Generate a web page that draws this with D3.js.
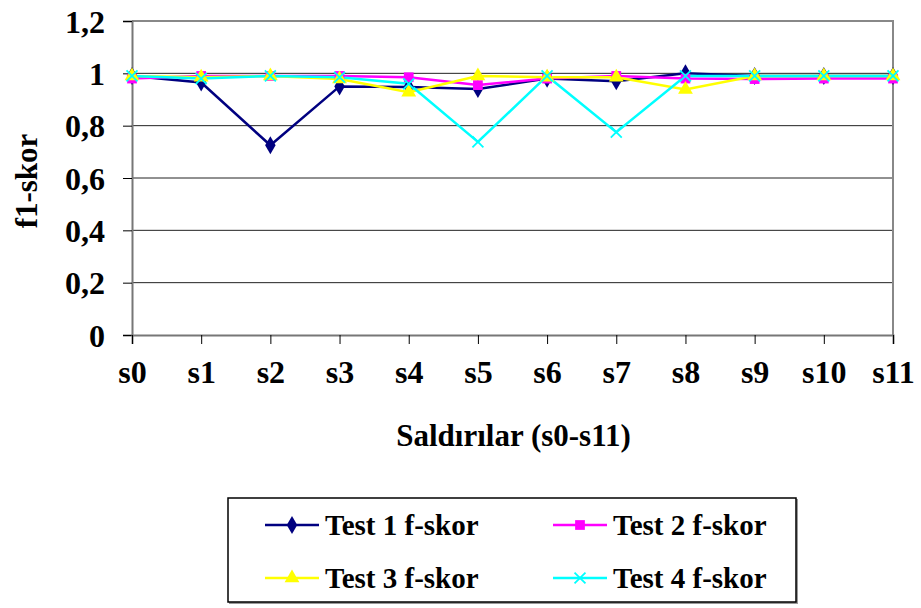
<!DOCTYPE html>
<html>
<head>
<meta charset="utf-8">
<script src="https://cdn.jsdelivr.net/npm/d3@7"></script>
<style>
    body { margin: 0; background: #fff; }
    svg text { font-family: "Liberation Serif", "DejaVu Serif", serif !important; font-weight: bold; }
</style>
</head>
<body>
<svg id="chart" width="921" height="608"></svg>
<script>
// categories (attacks) and the four test series
var categories = ["s0", "s1", "s2", "s3", "s4", "s5", "s6", "s7", "s8", "s9", "s10", "s11"];
var test1 = [0.99, 0.965, 0.725, 0.95, 0.948, 0.94, 0.98, 0.97, 1.0, 0.99, 0.99, 0.99];
var test2 = [0.98, 0.99, 0.99, 0.99, 0.985, 0.955, 0.98, 0.99, 0.98, 0.978, 0.98, 0.98];
var test3 = [0.99, 0.985, 0.99, 0.978, 0.928, 0.99, 0.985, 0.985, 0.938, 0.99, 0.99, 0.99];
var test4 = [0.99, 0.98, 0.99, 0.985, 0.96, 0.738, 0.99, 0.775, 0.99, 0.99, 0.99, 0.99];
var seriesNames = ["Test 1 f-skor", "Test 2 f-skor", "Test 3 f-skor", "Test 4 f-skor"];
var yTicks = [0, 0.2, 0.4, 0.6, 0.8, 1, 1.2];

var colors = ["#000080", "#FF00FF", "#FFFF00", "#00FFFF"];
var symbols = [d3.symbolDiamond, d3.symbolSquare, d3.symbolTriangle, d3.symbolX];
var series = [test1, test2, test3, test4];

var svg = d3.select("#chart");
var plotLeft = 132, plotRight = 893, plotTop = 21, plotBottom = 335;
var serif = '"Liberation Serif", "DejaVu Serif", serif';

var x = d3.scalePoint().domain(categories).range([plotLeft, plotRight]);
var y = d3.scaleLinear().domain([0, 1.2]).range([plotBottom, plotTop]);

var fmt = function (d) { return String(d).replace(".", ","); };

// gridlines
svg.append("g")
    .selectAll("line")
    .data(yTicks.filter(function (d) { return d > 0; }))
    .enter().append("line")
    .attr("x1", plotLeft).attr("x2", plotRight)
    .attr("y1", function (d) { return y(d); })
    .attr("y2", function (d) { return y(d); })
    .attr("stroke", function (d) { return d === 1.2 ? "#888" : "#222"; })
    .attr("stroke-width", function (d) { return d === 1.2 ? 2 : 1; });

// right border
svg.append("line")
    .attr("x1", plotRight).attr("x2", plotRight).attr("y1", plotTop - 1).attr("y2", plotBottom)
    .attr("stroke", "#888").attr("stroke-width", 2);

// y axis
var yAxis = svg.append("g")
    .attr("transform", "translate(" + plotLeft + ",0)")
    .call(d3.axisLeft(y).tickValues(yTicks).tickFormat(fmt).tickSize(9).tickPadding(18));
yAxis.attr("font-family", serif);
yAxis.select(".domain").attr("stroke", "#777").attr("stroke-width", 2);
yAxis.selectAll(".tick line").attr("stroke", "#000");
yAxis.selectAll("text").style("font-size", "32px").style("font-family", serif)
    .attr("fill", "#000").attr("dy", "0.35em");

// x axis
var xAxis = svg.append("g")
    .attr("transform", "translate(0," + plotBottom + ")")
    .call(d3.axisBottom(x).tickSize(9).tickPadding(16));
xAxis.attr("font-family", serif);
xAxis.select(".domain").attr("stroke", "#777").attr("stroke-width", 2);
xAxis.selectAll(".tick line").attr("stroke", "#000");
xAxis.selectAll("text").style("font-size", "32px").style("font-family", serif).attr("fill", "#000");

// axis titles
svg.append("text")
    .attr("x", (plotLeft + plotRight) / 2 + 1).attr("y", 446)
    .attr("text-anchor", "middle")
    .style("font-size", "31px").style("font-family", serif)
    .text("Saldırılar (s0-s11)");

svg.append("text")
    .attr("transform", "translate(37,181) rotate(-90)")
    .attr("text-anchor", "middle")
    .style("font-size", "31px").style("font-family", serif)
    .text("f1-skor");

// lines and markers
var line = d3.line()
    .x(function (d, i) { return x(categories[i]); })
    .y(function (d) { return y(d); });

series.forEach(function (data, k) {
    svg.append("path")
        .datum(data)
        .attr("fill", "none")
        .attr("stroke", colors[k])
        .attr("stroke-width", 2.5)
        .attr("d", line);
});

function drawMarker(g, k, px, py) {
    var sym = g.append("path")
        .attr("transform", "translate(" + px + "," + py + ")")
        .attr("d", d3.symbol().type(symbols[k]).size(k === 3 ? 80 : 95)());
    if (k === 3) {
        sym.attr("fill", "none").attr("stroke", colors[k]).attr("stroke-width", 1.8);
    } else {
        sym.attr("fill", colors[k]);
    }
}

series.forEach(function (data, k) {
    var g = svg.append("g");
    data.forEach(function (d, i) {
        drawMarker(g, k, x(categories[i]), y(d));
    });
});

// legend
var legend = svg.append("g");
legend.append("rect")
    .attr("x", 229).attr("y", 499).attr("width", 569).attr("height", 105)
    .attr("fill", "#999");
legend.append("rect")
    .attr("x", 228).attr("y", 498).attr("width", 568).attr("height", 104)
    .attr("fill", "#fff").attr("stroke", "#000").attr("stroke-width", 1.5);

var legendPos = [[265, 525], [553, 525], [265, 578], [553, 578]];
seriesNames.forEach(function (name, k) {
    var p = legendPos[k];
    legend.append("line")
        .attr("x1", p[0]).attr("x2", p[0] + 54)
        .attr("y1", p[1]).attr("y2", p[1])
        .attr("stroke", colors[k]).attr("stroke-width", 2.5);
    drawMarker(legend, k, p[0] + 27, p[1]);
    legend.append("text")
        .attr("x", p[0] + 60).attr("y", p[1])
        .attr("dy", "0.35em")
        .style("font-size", "29px").style("font-family", serif)
        .text(name);
});
</script>
</body>
</html>
